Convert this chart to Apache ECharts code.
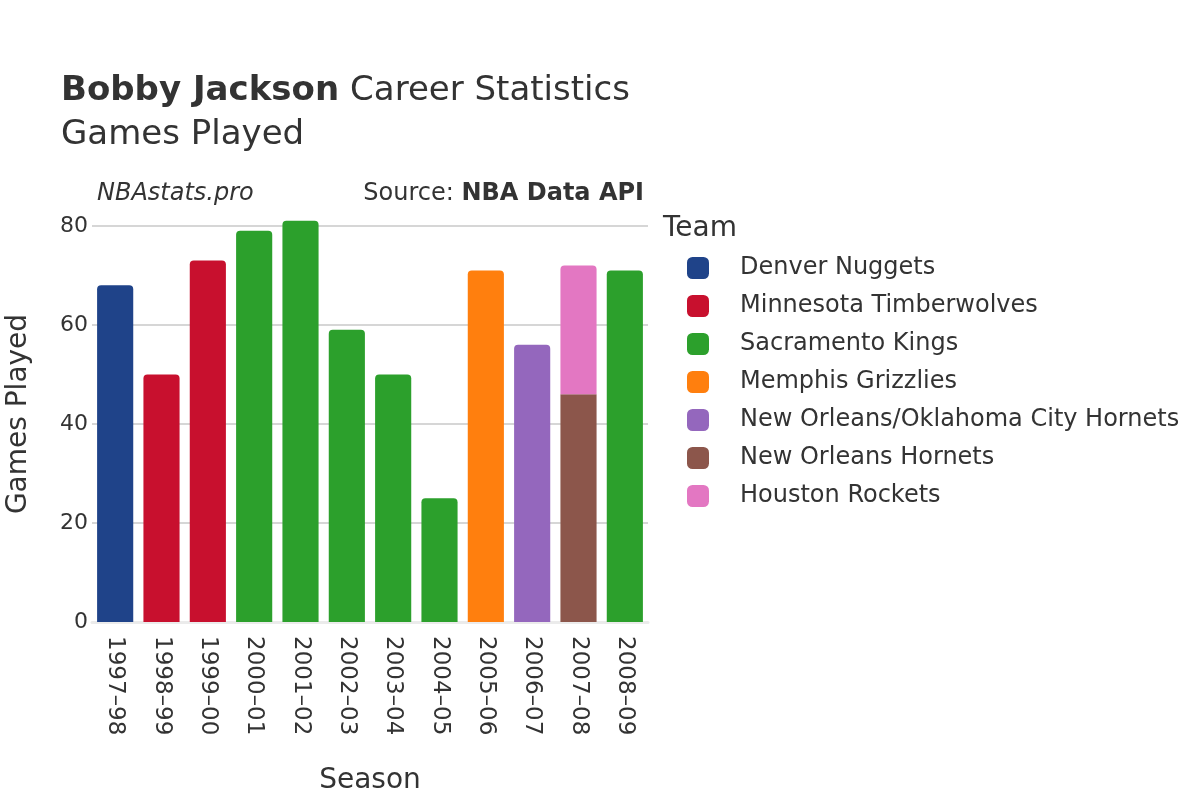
<!DOCTYPE html>
<html>
<head>
<meta charset="utf-8">
<script src="https://cdn.jsdelivr.net/npm/echarts@6/dist/echarts.min.js"></script>
<style>
  html, body { margin: 0; padding: 0; background: #fff; }
  #chart { width: 1200px; height: 800px; }
</style>
</head>
<body>
<div id="chart"></div>
<script>
const seasons = ['1997–98', '1998–99', '1999–00', '2000–01', '2001–02', '2002–03', '2003–04', '2004–05', '2005–06', '2006–07', '2007–08', '2008–09']
const teams = ['Denver Nuggets', 'Minnesota Timberwolves', 'Sacramento Kings', 'Memphis Grizzlies', 'New Orleans/Oklahoma City Hornets', 'New Orleans Hornets', 'Houston Rockets']
const teamColors = ['#1f4389', '#c8102e', '#2ca02c', '#ff7f0e', '#9467bd', '#8c564b', '#e377c2']
// games per season, one array per team (null = did not play there)
const denver = [68, null, null, null, null, null, null, null, null, null, null, null]
const minnesota = [null, 50, 73, null, null, null, null, null, null, null, null, null]
const sacramento = [null, null, null, 79, 81, 59, 50, 25, null, null, null, 71]
const memphis = [null, null, null, null, null, null, null, null, 71, null, null, null]
const noOkc = [null, null, null, null, null, null, null, null, null, 56, null, null]
const noHornets = [null, null, null, null, null, null, null, null, null, null, 46, null]
const houston = [null, null, null, null, null, null, null, null, null, null, 26, null]
const teamValues = [denver, minnesota, sacramento, memphis, noOkc, noHornets, houston]
const yTicks = [0, 20, 40, 60, 80]

const font = 'DejaVu Sans'
const chart = echarts.init(document.getElementById('chart'))

const series = teams.map((name, i) => ({
  name: name,
  type: 'bar',
  stack: 'games',
  barWidth: '78%',
  data: teamValues[i],
  itemStyle: {
    color: teamColors[i],
    borderRadius: name === 'New Orleans Hornets' ? 0 : [4, 4, 0, 0]
  },
  emphasis: { disabled: true }
}))

const options = {
  animation: false,
  textStyle: { fontFamily: font },
  title: [
    {
      text: '{b|Bobby Jackson}{s| }{n|Career Statistics}\n{n|Games Played}',
      left: 56,
      top: 64,
      textStyle: {
        rich: {
          b: { fontFamily: font, fontSize: 34, fontWeight: 'bold', color: '#333', lineHeight: 44 },
          s: { fontFamily: font, fontSize: 34, width: 11, lineHeight: 44 },
          n: { fontFamily: font, fontSize: 34, fontWeight: 'normal', color: '#333', lineHeight: 44 }
        }
      }
    },
    {
      text: 'NBAstats.pro',
      left: 92,
      top: 177,
      textStyle: { fontFamily: font, fontSize: 24, fontStyle: 'italic', fontWeight: 'normal', color: '#333' }
    },
    {
      text: 'Source: {b|NBA Data API}',
      right: 551,
      top: 177,
      textStyle: {
        fontFamily: font, fontSize: 24, fontWeight: 'normal', color: '#333',
        rich: { b: { fontFamily: font, fontSize: 24, fontWeight: 'bold', color: '#333' } }
      }
    },
    {
      text: 'Team',
      left: 658,
      top: 210,
      textStyle: { fontFamily: font, fontSize: 28, fontWeight: 'normal', color: '#333' }
    }
  ],
  legend: {
    orient: 'vertical',
    left: 682,
    top: 251,
    data: teams,
    icon: 'roundRect',
    itemWidth: 22,
    itemHeight: 22,
    itemGap: 14,
    selectedMode: false,
    textStyle: { fontFamily: font, fontSize: 24, color: '#333', padding: [0, 0, 0, 26] }
  },
  grid: {
    left: 92,
    right: 552,
    top: 206,
    bottom: 178,
    containLabel: false
  },
  xAxis: {
    type: 'category',
    data: seasons,
    name: 'Season',
    nameLocation: 'middle',
    nameGap: 145,
    nameTextStyle: { fontFamily: font, fontSize: 28, color: '#333' },
    axisLine: { show: true, lineStyle: { color: '#ebebeb', width: 3 } },
    axisTick: { show: false },
    axisLabel: {
      rotate: -90,
      fontFamily: font,
      fontSize: 23,
      color: '#333',
      margin: 14,
      interval: 0
    }
  },
  yAxis: {
    type: 'value',
    min: 0,
    max: 84,
    interval: 20,
    name: 'Games Played',
    nameLocation: 'middle',
    nameGap: 59,
    nameTextStyle: { fontFamily: font, fontSize: 28, color: '#333' },
    axisLine: { show: false },
    axisTick: { show: false },
    axisLabel: {
      fontFamily: font,
      fontSize: 22,
      color: '#333',
      margin: 4,
      showMaxLabel: false,
      formatter: (v) => (yTicks.indexOf(v) >= 0 ? String(v) : '')
    },
    splitLine: { show: true, showMaxLine: false, lineStyle: { color: '#c8c8c8', width: 1.5 } }
  },
  series: series
}
chart.setOption(options)
</script>
</body>
</html>
